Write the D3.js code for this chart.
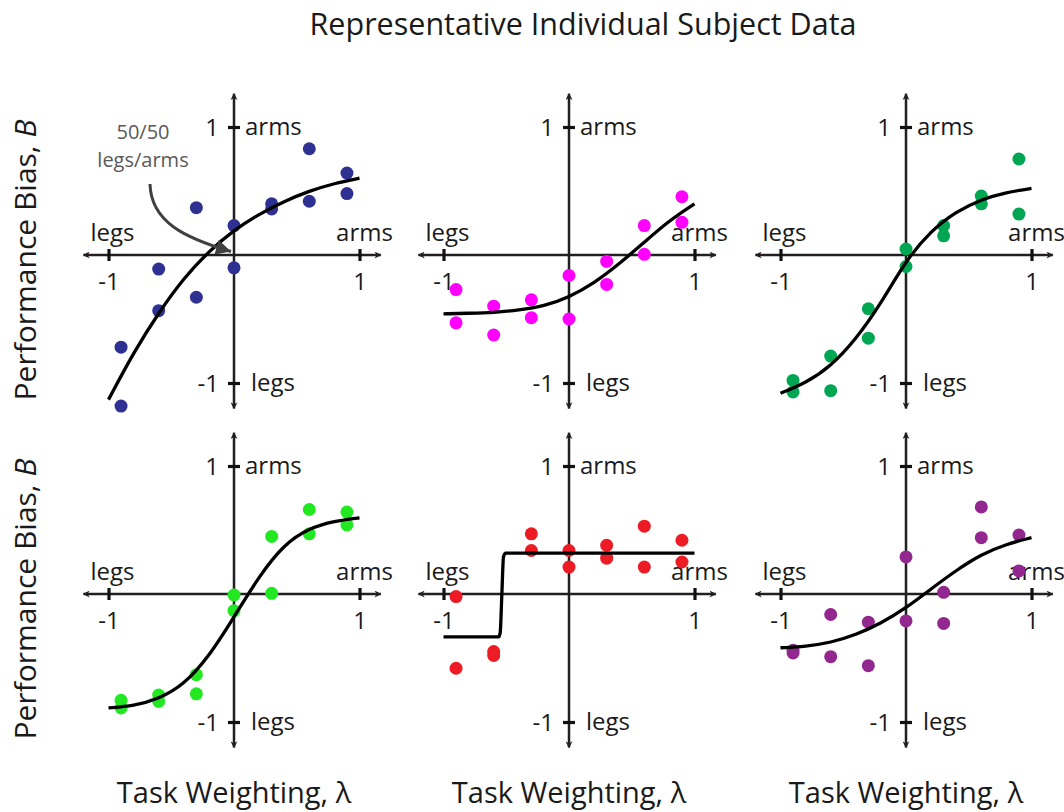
<!DOCTYPE html>
<html>
<head>
<meta charset="utf-8">
<script src="https://cdn.jsdelivr.net/npm/d3@7"></script>
<style>
  html, body { margin: 0; padding: 0; background: #fff; }
  svg text { font-family: "Open Sans", "Noto Sans", sans-serif; fill: #1a1a1a; }
</style>
</head>
<body>
<svg id="chart" width="1064" height="812"></svg>
<script>
// ---------------- data ----------------
const chartTitle = "Representative Individual Subject Data";
const yAxisTitle = "Performance Bias, ";
const yAxisVar = "B";
const xAxisTitle = "Task Weighting, λ";
const tickValues = [-1, 1];
const xEndLabels = ["legs", "arms"];
const yEndLabels = ["legs", "arms"];

const lambdaLevels = [-0.9, -0.6, -0.3, 0, 0.3, 0.6, 0.9];

// two repetitions per task weighting, for each subject
const subj1RepA = [-0.72, -0.11, 0.37, 0.23, 0.40, 0.83, 0.64];
const subj1RepB = [-1.18, -0.435, -0.33, -0.10, 0.36, 0.42, 0.48];
const subj2RepA = [-0.27, -0.40, -0.35, -0.16, -0.05, 0.23, 0.455];
const subj2RepB = [-0.53, -0.625, -0.49, -0.50, -0.23, 0.005, 0.255];
const subj3RepA = [-0.98, -0.79, -0.42, 0.047, 0.23, 0.46, 0.75];
const subj3RepB = [-1.07, -1.06, -0.65, -0.09, 0.15, 0.40, 0.32];
const subj4RepA = [-0.83, -0.79, -0.63, -0.008, 0.45, 0.66, 0.64];
const subj4RepB = [-0.89, -0.84, -0.78, -0.13, 0.005, 0.47, 0.54];
const subj5RepA = [-0.02, -0.45, 0.47, 0.34, 0.38, 0.53, 0.42];
const subj5RepB = [-0.58, -0.48, 0.34, 0.21, 0.28, 0.21, 0.25];
const subj6RepA = [-0.44, -0.16, -0.22, 0.29, 0.013, 0.68, 0.46];
const subj6RepB = [-0.46, -0.49, -0.56, -0.21, -0.23, 0.44, 0.18];

// fitted curves
const fitLambda = [-1, -0.8, -0.6, -0.4, -0.2, 0, 0.2, 0.4, 0.6, 0.8, 1.0];
const subj1Fit = [-1.13, -0.76, -0.45, -0.18, 0.03, 0.195, 0.32, 0.42, 0.50, 0.56, 0.60];
const subj2Fit = [-0.46, -0.455, -0.45, -0.43, -0.40, -0.33, -0.22, -0.07, 0.10, 0.27, 0.40];
const subj3Fit = [-1.08, -1.0, -0.87, -0.66, -0.38, -0.04, 0.19, 0.34, 0.435, 0.49, 0.52];
const subj4Fit = [-0.89, -0.875, -0.82, -0.71, -0.49, -0.18, 0.14, 0.39, 0.515, 0.57, 0.595];
const subj5FitLambda = [-1, -0.56, -0.548, -0.535, -0.522, -0.505, 1.0];
const subj5Fit = [-0.335, -0.335, -0.30, 0.0, 0.29, 0.32, 0.32];
const subj6Fit = [-0.42, -0.41, -0.38, -0.32, -0.23, -0.11, 0.04, 0.185, 0.31, 0.39, 0.44];

const subjectColors = ["#2e3192", "#ff00ff", "#00a651", "#22e822", "#ed1c24", "#92278f"];

const annotationLines = ["50/50", "legs/arms"];

// ---------------- drawing ----------------
const svg = d3.select("#chart");
const axisColor = "#231f20";

const subjects = [
  { a: subj1RepA, b: subj1RepB, fx: fitLambda, fy: subj1Fit },
  { a: subj2RepA, b: subj2RepB, fx: fitLambda, fy: subj2Fit },
  { a: subj3RepA, b: subj3RepB, fx: fitLambda, fy: subj3Fit },
  { a: subj4RepA, b: subj4RepB, fx: fitLambda, fy: subj4Fit },
  { a: subj5RepA, b: subj5RepB, fx: subj5FitLambda, fy: subj5Fit },
  { a: subj6RepA, b: subj6RepB, fx: fitLambda, fy: subj6Fit }
];

const colOrigins = [234, 569, 906];
const rowOrigins = [255, 594];
const halfW = 125.5, halfH = 128;

// markers
const defs = svg.append("defs");
defs.append("marker")
  .attr("id", "axArrow")
  .attr("viewBox", "0 0 10 10")
  .attr("refX", 9).attr("refY", 5)
  .attr("markerWidth", 8).attr("markerHeight", 7)
  .attr("markerUnits", "userSpaceOnUse")
  .attr("orient", "auto-start-reverse")
  .append("path").attr("d", "M0,0 L10,5 L0,10 L3,5 Z").attr("fill", axisColor);
defs.append("marker")
  .attr("id", "annArrow")
  .attr("viewBox", "0 0 10 10")
  .attr("refX", 10).attr("refY", 5)
  .attr("markerWidth", 18).attr("markerHeight", 15)
  .attr("markerUnits", "userSpaceOnUse")
  .attr("orient", "auto")
  .append("path").attr("d", "M0,0 L10,5 L0,10 Z").attr("fill", "#404040");

// title
svg.append("text")
  .attr("x", 583).attr("y", 35)
  .attr("text-anchor", "middle")
  .attr("font-size", 30.5)
  .text(chartTitle);

subjects.forEach((s, i) => {
  const col = i % 3, row = Math.floor(i / 3);
  const ox = colOrigins[col], oy = rowOrigins[row];
  const x = d3.scaleLinear().domain([-1, 1]).range([ox - halfW, ox + halfW]);
  const y = d3.scaleLinear().domain([-1, 1]).range([oy + halfH, oy - halfH]);
  const g = svg.append("g");

  // axis lines with arrows
  g.append("line")
    .attr("x1", x(-1.2)).attr("x2", x(1.17))
    .attr("y1", y(0)).attr("y2", y(0))
    .attr("stroke", axisColor).attr("stroke-width", 2.5)
    .attr("marker-start", "url(#axArrow)").attr("marker-end", "url(#axArrow)");
  g.append("line")
    .attr("x1", x(0)).attr("x2", x(0))
    .attr("y1", y(1.26)).attr("y2", y(-1.2))
    .attr("stroke", axisColor).attr("stroke-width", 2.5)
    .attr("marker-start", "url(#axArrow)").attr("marker-end", "url(#axArrow)");

  // x axis ticks and numbers
  const xAx = g.append("g").attr("transform", `translate(0,${y(0)})`)
    .call(d3.axisBottom(x).tickValues(tickValues).tickSizeOuter(0).tickSizeInner(6)
      .tickPadding(7).tickFormat(d => String(d)));
  xAx.select(".domain").remove();
  xAx.selectAll(".tick line").attr("y1", -6).attr("y2", 6)
    .attr("stroke", "#111").attr("stroke-width", 3.2);
  xAx.selectAll(".tick text").attr("font-size", 24)
    .attr("font-family", "Open Sans, sans-serif").attr("fill", "#1a1a1a")
    .attr("dy", "0.9em");

  // y axis ticks and numbers
  const yAx = g.append("g").attr("transform", `translate(${x(0)},0)`)
    .call(d3.axisLeft(y).tickValues(tickValues).tickSizeOuter(0).tickSizeInner(6)
      .tickPadding(9).tickFormat(d => String(d)));
  yAx.select(".domain").remove();
  yAx.selectAll(".tick line").attr("x1", -6).attr("x2", 6)
    .attr("stroke", "#111").attr("stroke-width", 3.2);
  yAx.selectAll(".tick text").attr("font-size", 24)
    .attr("font-family", "Open Sans, sans-serif").attr("fill", "#1a1a1a")
    .attr("dy", "0.34em");

  // end labels
  g.append("text").attr("x", x(-1) + 4).attr("y", y(0) - 14)
    .attr("text-anchor", "middle").attr("font-size", 24).text(xEndLabels[0]);
  g.append("text").attr("x", x(1) + 5).attr("y", y(0) - 14)
    .attr("text-anchor", "middle").attr("font-size", 24).text(xEndLabels[1]);
  g.append("text").attr("x", x(0) + 11).attr("y", y(1)).attr("dy", "0.34em")
    .attr("font-size", 24).text(yEndLabels[1]);
  g.append("text").attr("x", x(0) + 17).attr("y", y(-1)).attr("dy", "0.34em")
    .attr("font-size", 24).text(yEndLabels[0]);

  // data points
  const pts = lambdaLevels.flatMap((l, k) => [[l, s.a[k]], [l, s.b[k]]]);
  g.selectAll("circle.pt").data(pts).enter().append("circle")
    .attr("class", "pt")
    .attr("cx", d => x(d[0])).attr("cy", d => y(d[1]))
    .attr("r", 6.5).attr("fill", subjectColors[i]);

  // fit curve
  const line = d3.line().x(d => x(d[0])).y(d => y(d[1]))
    .curve(i === 4 ? d3.curveMonotoneX : d3.curveBasis);
  g.append("path").datum(s.fx.map((v, k) => [v, s.fy[k]]))
    .attr("d", line).attr("fill", "none")
    .attr("stroke", "#000").attr("stroke-width", 3.3)
    .attr("stroke-linejoin", "round");

  // annotation in first panel
  if (i === 0) {
    annotationLines.forEach((t, k) => {
      g.append("text").attr("x", 143).attr("y", 139 + k * 28)
        .attr("text-anchor", "middle").attr("font-size", 20)
        .style("fill", "#595959").text(t);
    });
    g.append("path")
      .attr("d", "M150,184 C151,222 185,238 231,251.5")
      .attr("fill", "none").attr("stroke", "#404040").attr("stroke-width", 3)
      .attr("marker-end", "url(#annArrow)");
  }
});

// y axis titles
rowOrigins.forEach(oy => {
  const t = svg.append("text")
    .attr("transform", `translate(36,${oy + 5}) rotate(-90)`)
    .attr("text-anchor", "middle").attr("font-size", 30);
  t.append("tspan").text(yAxisTitle);
  t.append("tspan").attr("font-style", "italic").text(yAxisVar);
});

// x axis titles
colOrigins.forEach(ox => {
  svg.append("text").attr("x", ox).attr("y", 803)
    .attr("text-anchor", "middle").attr("font-size", 29).text(xAxisTitle);
});
</script>
</body>
</html>
